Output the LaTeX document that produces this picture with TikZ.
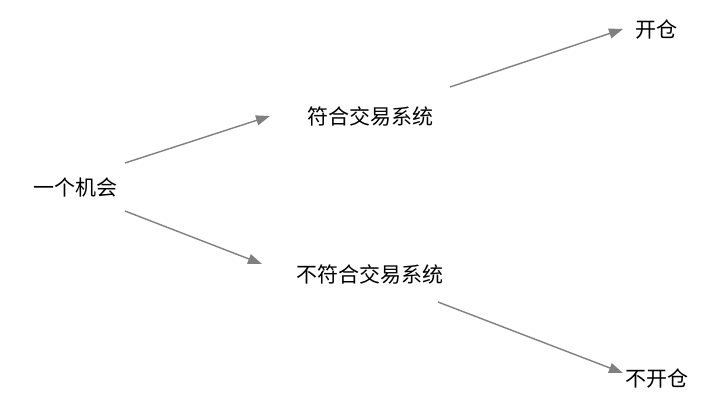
\documentclass[tikz,border=0pt]{standalone}
\usepackage{fontspec}
\newfontfamily\cjk{Noto Sans CJK SC}
\usetikzlibrary{arrows.meta}
\definecolor{arr}{HTML}{808080}
\begin{document}
\begin{tikzpicture}[x=1pt,y=-1pt,
  lbl/.style={font=\cjk\fontsize{21}{24}\selectfont, inner sep=0pt, text=black},
  conn/.style={draw=arr, line width=1.4pt, -{Triangle[length=14pt,width=10pt]}}]
\useasboundingbox (0,0) rectangle (720,408);
\fill[white] (0,0) rectangle (720,408);
\node[lbl] (a) at (75,188) {一个机会};
\node[lbl] (b) at (370,116) {符合交易系统};
\node[lbl] (c) at (370,274) {不符合交易系统};
\node[lbl] (d) at (656,30) {开仓};
\node[lbl] (e) at (657,379) {不开仓};
\coordinate (a1) at (125,163); \coordinate (b0) at (270,116);
\coordinate (a2) at (125,211); \coordinate (c0) at (262,264);
\coordinate (b1) at (450,87); \coordinate (d0) at (623,29);
\coordinate (c1) at (438,302); \coordinate (e0) at (623,373);
\draw[conn] (a1) -- (b0);
\draw[conn] (a2) -- (c0);
\draw[conn] (b1) -- (d0);
\draw[conn] (c1) -- (e0);
\end{tikzpicture}
\end{document}
